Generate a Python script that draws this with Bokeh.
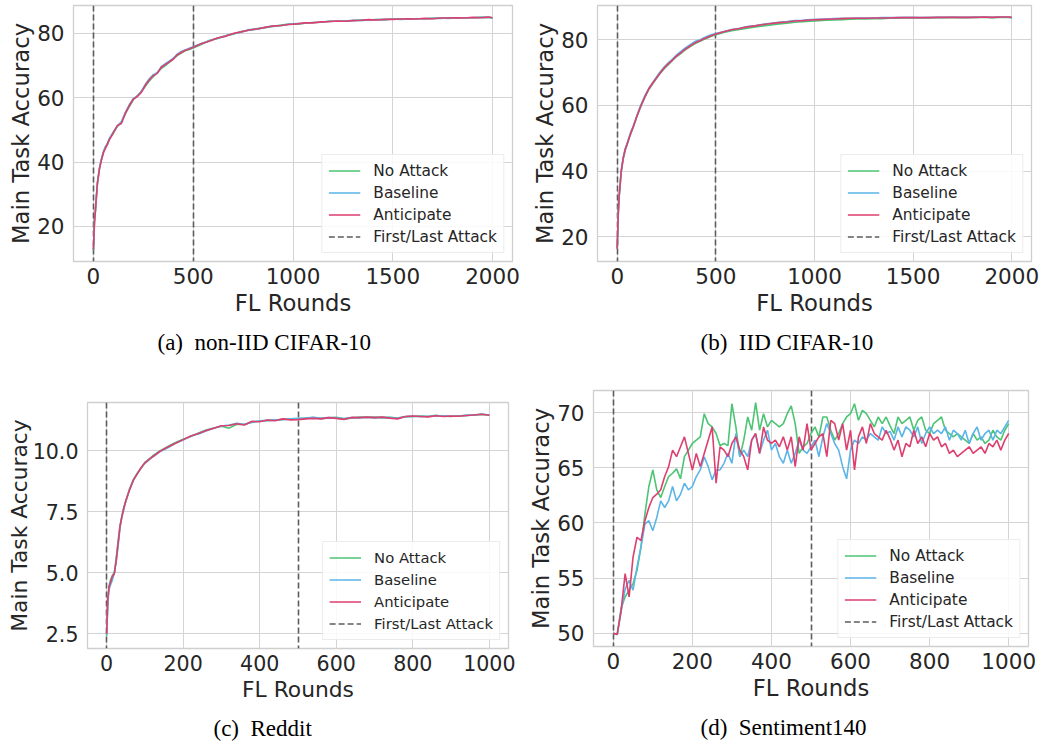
from bokeh.plotting import figure
from bokeh.models import Legend, LegendItem, Title, FixedTicker, PrintfTickFormatter, Range1d, Spacer
from bokeh.layouts import column, row
from bokeh.embed import file_html
from bokeh.resources import INLINE

# ---------------- data ----------------
series_names = ["No Attack", "Baseline", "Anticipate"]
attack_rounds = [0, 500]

rounds_cifar = [0, 5, 10, 15, 20, 30, 40, 50, 60, 70,
                80, 100, 120, 140, 160, 180, 200, 220, 240, 260,
                280, 300, 320, 340, 360, 380, 400, 420, 440, 460,
                480, 500, 540, 580, 620, 660, 700, 740, 780, 820,
                860, 900, 940, 980, 1020, 1060, 1100, 1140, 1180, 1220,
                1260, 1300, 1340, 1380, 1420, 1460, 1500, 1540, 1580, 1620,
                1660, 1700, 1740, 1780, 1820, 1860, 1900, 1940, 1980, 2000]

noniid_no_attack = [12.7, 21.0, 25.4, 29.0, 33.8, 38.2, 40.9, 43.4, 44.7, 45.9,
                    47.2, 49.0, 51.1, 52.4, 55.0, 57.3, 59.4, 60.7, 61.9, 63.6,
                    65.2, 66.6, 67.9, 69.1, 70.0, 71.0, 72.1, 73.1, 73.9, 74.6,
                    75.0, 75.5, 76.6, 77.8, 78.4, 79.2, 79.8, 80.6, 81.0, 81.5,
                    81.8, 82.2, 82.6, 82.9, 82.9, 83.2, 83.4, 83.5, 83.8, 83.8,
                    83.9, 84.0, 84.2, 84.2, 84.3, 84.3, 84.5, 84.4, 84.5, 84.6,
                    84.6, 84.7, 84.7, 84.9, 84.8, 84.9, 84.9, 85.0, 85.0, 84.9]
noniid_baseline = [12.8, 21.8, 24.7, 29.8, 33.2, 38.0, 41.0, 42.8, 44.9, 45.4,
                   47.4, 49.5, 51.2, 52.6, 55.5, 57.9, 59.8, 60.5, 62.1, 64.2,
                   65.9, 67.2, 67.8, 69.7, 70.6, 71.4, 72.3, 73.6, 74.4, 74.9,
                   75.4, 75.9, 76.9, 77.7, 78.5, 79.3, 79.9, 80.4, 81.2, 81.3,
                   81.9, 82.4, 82.4, 82.9, 83.1, 83.2, 83.4, 83.5, 83.8, 83.8,
                   83.9, 84.1, 84.0, 84.2, 84.3, 84.3, 84.5, 84.5, 84.5, 84.6,
                   84.6, 84.7, 84.8, 84.7, 84.9, 84.9, 84.9, 85.0, 85.0, 84.8]
noniid_anticipate = [12.9, 21.5, 25.0, 29.5, 33.5, 37.8, 40.6, 43.0, 44.3, 45.6,
                     47.0, 49.2, 51.4, 52.0, 55.2, 57.6, 59.6, 60.4, 61.7, 63.9,
                     65.6, 66.9, 67.6, 69.5, 70.3, 71.2, 72.0, 73.4, 74.1, 74.8,
                     75.2, 75.7, 76.8, 77.6, 78.6, 79.1, 80.0, 80.5, 81.1, 81.4,
                     81.9, 82.3, 82.5, 82.8, 83.0, 83.3, 83.3, 83.6, 83.7, 83.9,
                     83.8, 84.0, 84.1, 84.3, 84.2, 84.4, 84.4, 84.5, 84.6, 84.5,
                     84.7, 84.6, 84.8, 84.8, 84.9, 84.8, 85.0, 84.9, 85.1, 84.9]

iid_no_attack = [16.3, 26.6, 32.2, 35.8, 39.5, 43.6, 46.2, 48.0, 49.9, 51.6,
                 53.1, 56.6, 59.7, 62.4, 64.8, 66.6, 68.3, 69.9, 71.3, 72.5,
                 73.7, 74.8, 75.7, 76.7, 77.5, 78.3, 79.0, 79.5, 80.1, 80.6,
                 81.1, 81.5, 82.2, 82.7, 83.1, 83.5, 83.9, 84.2, 84.5, 84.8,
                 85.0, 85.3, 85.5, 85.6, 85.8, 85.9, 86.0, 86.1, 86.2, 86.3,
                 86.3, 86.4, 86.4, 86.5, 86.5, 86.6, 86.6, 86.6, 86.6, 86.7,
                 86.7, 86.7, 86.7, 86.7, 86.8, 86.8, 86.7, 86.8, 86.8, 86.7]
iid_baseline = [16.5, 27.3, 32.8, 36.2, 40.1, 44.0, 46.8, 48.5, 50.3, 52.1,
                53.5, 57.0, 60.2, 62.9, 65.2, 67.0, 68.7, 70.4, 71.8, 73.0,
                74.1, 75.3, 76.3, 77.3, 78.1, 78.9, 79.6, 80.0, 80.6, 81.1,
                81.6, 81.9, 82.5, 83.1, 83.5, 84.0, 84.3, 84.7, 85.0, 85.3,
                85.5, 85.8, 85.9, 86.1, 86.2, 86.3, 86.4, 86.5, 86.5, 86.6,
                86.6, 86.6, 86.7, 86.7, 86.7, 86.8, 86.8, 86.7, 86.8, 86.8,
                86.8, 86.9, 86.8, 86.8, 86.9, 86.9, 86.8, 86.9, 86.9, 86.8]
iid_anticipate = [16.4, 27.0, 32.5, 36.0, 39.8, 43.8, 46.5, 48.2, 50.0, 51.8,
                  53.3, 56.8, 59.9, 62.6, 65.0, 66.8, 68.4, 70.1, 71.5, 72.7,
                  73.8, 75.0, 75.9, 76.9, 77.7, 78.5, 79.2, 79.7, 80.3, 80.8,
                  81.3, 81.7, 82.4, 83.0, 83.4, 83.9, 84.2, 84.6, 84.9, 85.2,
                  85.4, 85.7, 85.8, 86.0, 86.1, 86.2, 86.3, 86.4, 86.5, 86.5,
                  86.5, 86.6, 86.6, 86.6, 86.7, 86.7, 86.7, 86.7, 86.7, 86.8,
                  86.8, 86.8, 86.8, 86.8, 86.8, 86.9, 86.8, 86.9, 86.9, 86.8]

rounds_reddit = [0, 3, 6, 10, 15, 20, 25, 30, 35, 40,
                 45, 50, 60, 70, 80, 90, 100, 120, 140, 160,
                 180, 200, 220, 240, 260, 280, 300, 320, 340, 360,
                 380, 400, 420, 440, 460, 480, 500, 520, 540, 560,
                 580, 600, 620, 640, 660, 680, 700, 720, 740, 760,
                 780, 800, 820, 840, 860, 880, 900, 920, 940, 960,
                 980, 1000]
reddit_no_attack = [2.4, 3.8, 4.45, 4.7, 4.9, 5.0, 5.6, 6.3, 6.95, 7.35,
                    7.7, 7.9, 8.45, 8.82, 9.08, 9.28, 9.52, 9.78, 10.0, 10.17,
                    10.33, 10.47, 10.58, 10.72, 10.84, 10.93, 11.0, 10.92, 11.08, 11.07,
                    11.18, 11.2, 11.23, 11.25, 11.28, 11.3, 11.3, 11.33, 11.35, 11.31,
                    11.34, 11.36, 11.3, 11.33, 11.37, 11.36, 11.37, 11.35, 11.36, 11.33,
                    11.38, 11.4, 11.42, 11.4, 11.45, 11.41, 11.4, 11.43, 11.43, 11.47,
                    11.48, 11.46]
reddit_baseline = [2.45, 3.7, 4.3, 4.5, 4.7, 5.0, 5.45, 6.1, 6.85, 7.3,
                   7.6, 7.95, 8.4, 8.78, 9.05, 9.3, 9.48, 9.74, 9.96, 10.12,
                   10.3, 10.43, 10.6, 10.68, 10.8, 10.92, 11.01, 11.05, 11.12, 11.08,
                   11.15, 11.22, 11.24, 11.26, 11.27, 11.3, 11.32, 11.33, 11.36, 11.33,
                   11.35, 11.34, 11.31, 11.35, 11.34, 11.37, 11.34, 11.36, 11.35, 11.33,
                   11.39, 11.41, 11.39, 11.41, 11.42, 11.43, 11.41, 11.42, 11.46, 11.45,
                   11.5, 11.46]
reddit_anticipate = [2.5, 3.9, 4.4, 4.6, 4.85, 4.95, 5.5, 6.2, 6.9, 7.3,
                     7.65, 7.95, 8.4, 8.8, 9.05, 9.3, 9.5, 9.75, 9.98, 10.15,
                     10.3, 10.45, 10.6, 10.7, 10.82, 10.92, 11.02, 11.03, 11.1, 11.05,
                     11.2, 11.18, 11.25, 11.22, 11.3, 11.26, 11.27, 11.3, 11.32, 11.3,
                     11.35, 11.32, 11.28, 11.36, 11.35, 11.37, 11.35, 11.37, 11.33, 11.3,
                     11.4, 11.42, 11.4, 11.38, 11.43, 11.4, 11.42, 11.41, 11.44, 11.46,
                     11.49, 11.45]

rounds_sent = list(range(0, 1001, 10))
sent_no_attack = [50.0, 49.9, 52.3, 53.3, 53.9, 54.5, 55.7, 57.8, 60.8, 63.3,
                  64.8, 63.0, 62.3, 63.3, 64.2, 64.5, 64.9, 64.0, 66.0, 66.6,
                  67.2, 67.5, 67.8, 69.9, 69.0, 68.7, 68.1, 67.0, 67.2, 67.0,
                  70.8, 68.7, 66.0, 67.5, 69.6, 68.4, 70.9, 68.4, 69.9, 68.7,
                  69.3, 69.0, 68.7, 69.0, 69.9, 70.6, 69.0, 66.3, 66.9, 67.2,
                  68.1, 68.7, 67.8, 69.6, 69.6, 68.4, 67.5, 68.1, 69.0, 69.6,
                  69.9, 70.8, 69.3, 70.2, 69.9, 69.3, 68.7, 69.6, 69.0, 69.6,
                  68.8, 68.1, 69.6, 69.0, 69.3, 69.6, 68.4, 69.3, 69.6, 68.4,
                  68.1, 69.0, 69.3, 69.6, 68.4, 68.1, 67.8, 68.1, 67.8, 67.5,
                  67.2, 68.1, 67.5, 67.8, 67.2, 67.5, 68.4, 67.8, 67.5, 68.4,
                  69.0]
sent_baseline = [50.0, 49.9, 52.0, 54.0, 54.8, 53.9, 56.0, 57.8, 59.9, 60.2,
                 59.3, 60.5, 62.0, 61.4, 62.0, 63.3, 62.0, 62.6, 63.6, 63.0,
                 63.3, 64.2, 64.8, 66.0, 65.1, 63.9, 64.8, 64.8, 65.4, 66.3,
                 65.4, 68.1, 66.0, 66.6, 66.0, 67.5, 68.1, 66.3, 67.5, 68.4,
                 66.6, 67.2, 66.0, 65.4, 66.6, 65.4, 66.3, 67.5, 66.6, 66.3,
                 66.9, 67.5, 66.0, 67.8, 69.0, 68.1, 67.2, 66.6, 65.1, 64.0,
                 66.6, 67.5, 67.2, 67.8, 67.5, 68.1, 67.8, 67.5, 68.7, 68.1,
                 68.3, 67.5, 68.7, 67.8, 68.7, 68.4, 67.8, 68.7, 67.2, 68.1,
                 68.7, 68.1, 68.4, 68.1, 68.7, 67.5, 68.4, 68.1, 67.5, 68.4,
                 67.2, 68.1, 68.7, 67.5, 68.1, 68.4, 67.5, 68.4, 68.1, 68.7,
                 69.3]
sent_anticipate = [50.0, 49.9, 52.1, 55.4, 53.3, 56.9, 58.7, 58.4, 60.2, 61.4,
                   62.3, 62.6, 63.0, 64.2, 65.1, 66.6, 66.0, 66.9, 67.8, 66.3,
                   64.8, 66.3, 65.1, 66.3, 67.5, 68.7, 63.6, 66.9, 66.6, 66.0,
                   67.2, 67.8, 66.6, 66.0, 64.8, 67.5, 68.1, 66.3, 68.7, 67.5,
                   67.2, 67.5, 66.9, 67.8, 66.6, 67.8, 65.1, 67.8, 66.6, 69.0,
                   66.6, 67.2, 67.8, 68.1, 66.0, 69.3, 69.0, 67.5, 69.0, 66.6,
                   68.4, 64.8, 67.8, 68.7, 67.2, 69.0, 68.1, 67.8, 67.5, 68.4,
                   67.6, 66.6, 67.5, 66.0, 67.2, 66.9, 68.4, 67.2, 67.8, 66.9,
                   68.1, 67.5, 67.8, 66.9, 67.2, 66.3, 66.6, 66.0, 66.3, 66.6,
                   66.9, 66.3, 66.6, 66.9, 66.3, 67.2, 66.9, 67.5, 66.6, 67.5,
                   68.1]

# ---------------- style ----------------
COLORS = ["#4cc474", "#5bb5e8", "#dd3f6f"]
DASH_COLOR = "#5c5c5c"
TEXT = "#262626"
GRID = "#d4d4d4"
SANS = "DejaVu Sans"


def panel(x, ys, xr, yr, xticks, yticks, yfmt, caption, cap_offset,
          fw, fh, bl, br, bt, bb, s=1.0, ylab_standoff=0):
    p = figure(frame_width=fw, frame_height=fh,
               x_range=Range1d(*xr), y_range=Range1d(*yr),
               output_backend="svg", toolbar_location=None,
               min_border_left=bl, min_border_right=br,
               min_border_top=bt, min_border_bottom=bb,
               background_fill_color="white", border_fill_color="white")
    p.outline_line_color = "#cfcfcf"
    p.outline_line_width = 1.3
    p.grid.grid_line_color = GRID
    p.grid.grid_line_width = 1
    p.xaxis.ticker = FixedTicker(ticks=xticks)
    p.yaxis.ticker = FixedTicker(ticks=yticks)
    if yfmt:
        p.yaxis.formatter = PrintfTickFormatter(format=yfmt)
    for ax in (p.xaxis, p.yaxis):
        ax.axis_line_color = None
        ax.major_tick_line_color = None
        ax.minor_tick_line_color = None
        ax.major_tick_out = 0
        ax.major_tick_in = 0
        ax.minor_tick_out = 0
        ax.major_label_text_font = SANS
        ax.major_label_text_font_size = f"{21.5*s:.1f}px"
        ax.major_label_text_color = TEXT
        ax.axis_label_text_font = SANS
        ax.axis_label_text_font_size = f"{22.7*s:.1f}px"
        ax.axis_label_text_font_style = "normal"
        ax.axis_label_text_color = TEXT
    p.xaxis.axis_label = "FL Rounds"
    p.yaxis.axis_label = "Main Task Accuracy"
    p.xaxis.major_label_standoff = 6
    p.xaxis.axis_label_standoff = 3
    p.yaxis.major_label_standoff = 9
    p.yaxis.axis_label_standoff = ylab_standoff

    vs = p.vspan(x=attack_rounds, line_color=DASH_COLOR, line_width=1.6,
                 line_dash="6 3")
    rs = []
    for yv, c in zip(ys, COLORS):
        rs.append(p.line(x, yv, line_color=c, line_width=1.6))
    items = [LegendItem(label=n, renderers=[r]) for n, r in zip(series_names, rs)]
    items.append(LegendItem(label="First/Last Attack", renderers=[vs]))
    leg = Legend(items=items, location="bottom_right", margin=8,
                 padding=6, spacing=3, glyph_width=32, glyph_height=19,
                 label_height=19, label_standoff=13,
                 label_text_font=SANS, label_text_font_size=f"{15.4*s:.1f}px",
                 label_text_color=TEXT,
                 border_line_color="#d9d9d9", border_line_width=1,
                 background_fill_color="white", background_fill_alpha=0.85)
    p.add_layout(leg)
    cap = Title(text=caption, align="left", offset=cap_offset,
                text_font="Liberation Serif", text_font_size="23px",
                text_font_style="normal", text_color="black", standoff=18)
    p.add_layout(cap, "below")
    return p


pa = panel(rounds_cifar, [noniid_no_attack, noniid_baseline, noniid_anticipate],
           (-100, 2100), (9.1, 88.7), [0, 500, 1000, 1500, 2000], [20, 40, 60, 80], None,
           "(a)\u00a0 non-IID CIFAR-10", 84, 439, 256, 73, 8, 5, 119)
pb = panel(rounds_cifar, [iid_no_attack, iid_baseline, iid_anticipate],
           (-100, 2100), (12.5, 90.4), [0, 500, 1000, 1500, 2000], [20, 40, 60, 80], None,
           "(b)\u00a0 IID CIFAR-10", 103, 434, 256, 77, 16, 5, 119)
pc = panel(rounds_reddit, [reddit_no_attack, reddit_baseline, reddit_anticipate],
           (-50, 1050), (1.9, 11.97), [0, 200, 400, 600, 800, 1000], [2.5, 5.0, 7.5, 10.0], "%.1f",
           "(c)\u00a0 Reddit", 126, 421, 246, 87, 12, 10, 98, s=0.96, ylab_standoff=-2)
pd_ = panel(rounds_sent, [sent_no_attack, sent_baseline, sent_anticipate],
            (-50, 1050), (48.8, 72.0), [0, 200, 400, 600, 800, 1000], [50, 55, 60, 65, 70], None,
            "(d)\u00a0 Sentiment140", 107, 435, 256, 73, 19, 10, 100)

layout = column(row(pa, pb, spacing=0),
                row(column(Spacer(width=520, height=12), pc, spacing=0), pd_, spacing=0),
                spacing=0)
open("out.html", "w").write(file_html(layout, INLINE))
